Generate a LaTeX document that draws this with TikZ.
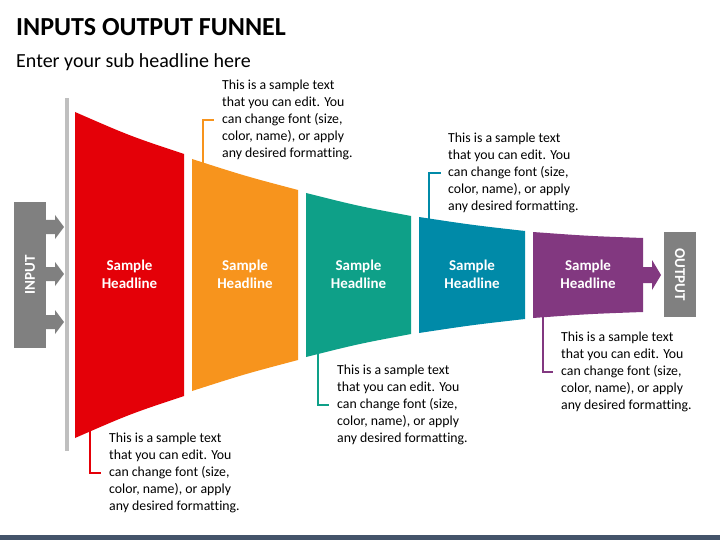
\documentclass[tikz,border=0pt]{standalone}
\usepackage{fontspec}
\setmainfont{Carlito}[Ligatures=NoCommon]
\definecolor{cred}{RGB}{228,0,8}
\definecolor{corange}{RGB}{247,148,29}
\definecolor{cteal}{RGB}{14,160,136}
\definecolor{cblue}{RGB}{0,138,168}
\definecolor{cpurple}{RGB}{130,56,128}
\definecolor{cgray}{RGB}{128,128,128}
\definecolor{cbar}{RGB}{191,191,191}
\definecolor{cstripe}{RGB}{68,84,106}
\begin{document}
\begin{tikzpicture}[x=1pt,y=-1pt,
  headl/.style={text=white,font=\fontsize{15}{18}\selectfont\bfseries,align=center,inner sep=0pt},
  body/.style={text=black,font=\fontsize{13.8}{17}\selectfont,align=left,anchor=west,inner sep=0pt},
  conn/.style={line width=2pt},
  sidelbl/.style={text=white,font=\fontsize{15}{18}\selectfont\bfseries,inner sep=0pt}]
\useasboundingbox (0,0) rectangle (720,540);
\fill[white] (0,0) rectangle (720,540);
% title
\node[anchor=base west,inner sep=0pt,font=\fontsize{26}{30}\selectfont\bfseries] (title) at (16,36) {INPUTS OUTPUT FUNNEL};
\node[anchor=base west,inner sep=0pt,font=\fontsize{20}{24}\selectfont] (sub) at (16,68) {Enter your sub headline here};
% gray bar
\fill[cbar] (65,98) rectangle (69,451);
% connectors
\coordinate (ro) at (203,170); \coordinate (rc) at (203,120); \coordinate (re) at (214,120);
\coordinate (bo) at (429,225); \coordinate (bc) at (429,173); \coordinate (be) at (441,173);
\coordinate (ao) at (90,425); \coordinate (ac) at (90,473); \coordinate (ae) at (101,473);
\coordinate (to) at (318,345); \coordinate (tc) at (318,405); \coordinate (te) at (329,405);
\coordinate (po) at (543,305); \coordinate (pc) at (543,372); \coordinate (pe) at (553,372);
\draw[conn,corange] (ro) -- (rc) -- (re);
\draw[conn,cblue] (bo) -- (bc) -- (be);
\draw[conn,cred] (ao) -- (ac) -- (ae);
\draw[conn,cteal] (to) -- (tc) -- (te);
\draw[conn,cpurple] (po) -- (pc) -- (pe);
% funnel segments
\fill[cred] (75,112) .. controls (130,136) .. (184,154) -- (184,396) .. controls (130,414) .. (75,438) -- cycle;
\fill[corange] (192,159) .. controls (245,176) .. (298,190) -- (298,360) .. controls (245,374) .. (192,391) -- cycle;
\fill[cteal] (306,193) .. controls (358,206) .. (411,216) -- (411,334) .. controls (358,344) .. (306,357) -- cycle;
\fill[cblue] (419,217) .. controls (472,225) .. (525,231) -- (525,319) .. controls (472,325) .. (419,333) -- cycle;
\fill[cpurple] (533,232) .. controls (588,236) .. (643,238) -- (643,312) .. controls (588,314) .. (533,318) -- cycle;
% output arrow
\fill[cpurple] (642,267) -- (652,267) -- (652,260) -- (661,275) -- (652,290) -- (652,283) -- (642,283) -- cycle;
% output box
\fill[cgray] (664,232) rectangle (696,317);
\node[sidelbl,rotate=-90] (outl) at (680,274.5) {OUTPUT};
% input box and arrows
\fill[cgray] (14,202) rectangle (46,348);
\foreach \yy in {227,274,322}{
  \fill[cgray] (45,\yy-7) -- (55,\yy-7) -- (55,\yy-12) -- (64,\yy) -- (55,\yy+12) -- (55,\yy+7) -- (45,\yy+7) -- cycle;
}
\node[sidelbl,rotate=90] (inl) at (30,275) {INPUT};
% headlines
\node[headl] (h1) at (129.5,274) {Sample\\Headline};
\node[headl] (h2) at (245,274) {Sample\\Headline};
\node[headl] (h3) at (358.5,274) {Sample\\Headline};
\node[headl] (h4) at (472,274) {Sample\\Headline};
\node[headl] (h5) at (588,274) {Sample\\Headline};
% body texts
\node[body] (t2) at (222,120) {This is a sample text\\that you can edit. You\\can change font (size,\\color, name), or apply\\any desired formatting.};
\node[body] (t4) at (448,173) {This is a sample text\\that you can edit. You\\can change font (size,\\color, name), or apply\\any desired formatting.};
\node[body] (t1) at (109,473) {This is a sample text\\that you can edit. You\\can change font (size,\\color, name), or apply\\any desired formatting.};
\node[body] (t3) at (337,405) {This is a sample text\\that you can edit. You\\can change font (size,\\color, name), or apply\\any desired formatting.};
\node[body] (t5) at (561,372) {This is a sample text\\that you can edit. You\\can change font (size,\\color, name), or apply\\any desired formatting.};
% bottom stripe
\fill[cstripe] (0,535) rectangle (720,540);
\end{tikzpicture}
\end{document}
